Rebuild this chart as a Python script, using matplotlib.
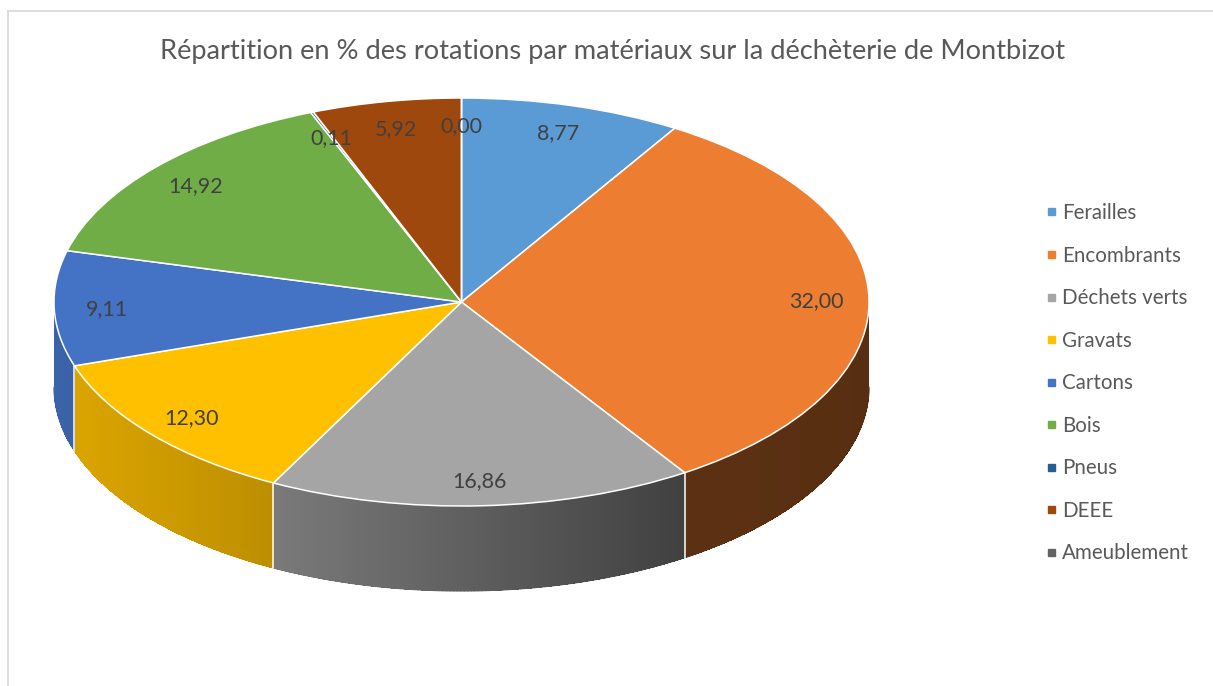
import numpy as np
import matplotlib
matplotlib.use("Agg")
import matplotlib.pyplot as plt
import matplotlib.colors as mcolors
from matplotlib.patches import Rectangle
from matplotlib.lines import Line2D
from matplotlib.collections import LineCollection

plt.rcParams['font.family'] = ['Lato', 'DejaVu Sans']

# données (% des rotations)
materiaux = ["Ferailles", "Encombrants", "Déchets verts", "Gravats", "Cartons",
             "Bois", "Pneus", "DEEE", "Ameublement"]
valeurs = [8.77, 32.00, 16.86, 12.30, 9.11, 14.92, 0.11, 5.92, 0.00]
couleurs = ["#5B9BD5", "#ED7D31", "#A5A5A5", "#FFC000", "#4472C4",
            "#70AD47", "#255E91", "#9E480E", "#636363"]
titre = "Répartition en % des rotations par matériaux sur la déchèterie de Montbizot"

W, H = 1213, 686
cx, cy = 461.5, 302.0      # centre du camembert (px)
rx, ry = 407.5, 204.0      # demi-axes de l'ellipse (px)
ep = 85.0 / ry             # epaisseur du bord 3D

fig = plt.figure(figsize=(W / 100, H / 100), dpi=100)
ax = fig.add_axes([0, 0, 1, 1])

wedges, _ = ax.pie(valeurs, colors=couleurs, startangle=90, counterclock=False,
                   radius=1, wedgeprops=dict(edgecolor="white", linewidth=1.1, zorder=3))

# bord avant avec un degrade (lumiere venant de la gauche)
fx = [-1.0, -0.46, 0.55, 1.0]
fv = [0.87, 0.74, 0.39, 0.37]
for w, c in zip(wedges, couleurs):
    lo = max(w.theta1, -180.0)
    hi = min(w.theta2, 0.0)
    if hi <= lo:
        continue
    n = max(2, int(np.ceil((hi - lo) * 2)))
    ts = np.radians(np.linspace(lo, hi, n + 1))
    base = np.array(mcolors.to_rgb(c))
    segs, cols = [], []
    for t0, t1 in zip(ts[:-1], ts[1:]):
        xs = [np.cos(t0), np.cos(t1), np.cos(t1), np.cos(t0)]
        ys = [np.sin(t0), np.sin(t1), np.sin(t1) - ep, np.sin(t0) - ep]
        col = np.clip(base * np.interp(np.cos((t0 + t1) / 2), fx, fv), 0, 1)
        ax.fill(xs, ys, color=col, lw=0, antialiased=False, zorder=1)
        segs.append([(np.cos(t0), np.sin(t0) - ep), (np.cos(t1), np.sin(t1) - ep)])
        cols.append(col)
    # bas du bord, lisse
    ax.add_collection(LineCollection(segs, colors=cols, linewidths=0.8, zorder=1.5,
                                     capstyle="round"))

# separations blanches sur le bord
limites = sorted({round(w.theta1, 6) for w in wedges} | {round(w.theta2, 6) for w in wedges})
for t in limites:
    if -180 < t < 0:
        a = np.radians(t)
        ax.plot([np.cos(a), np.cos(a)], [np.sin(a), np.sin(a) - ep],
                color="white", lw=1.1, zorder=2)

# etiquettes de valeurs
for w, v in zip(wedges, valeurs):
    m = np.radians((w.theta1 + w.theta2) / 2)
    ax.text(0.87 * np.cos(m), 0.87 * np.sin(m) - 7.5 / ry, f"{v:.2f}".replace(".", ","),
            ha="center", va="baseline", fontsize=15.5, color="#404040", zorder=5)

ax.set_xlim(-cx / rx, (W - cx) / rx)
ax.set_ylim((cy - H) / ry, cy / ry)
ax.set_aspect("auto")
ax.axis("off")

# titre
fig.text(612.5 / W, 1 - 59.5 / H, titre, ha="center", va="baseline",
         fontsize=19.6, color="#595959")

# legende
for i, (nom, c) in enumerate(zip(materiaux, couleurs)):
    yc = 212 + 42.5 * i
    fig.add_artist(Rectangle((1048 / W, 1 - (yc + 3.5) / H), 7 / W, 7 / H,
                             transform=fig.transFigure, color=c))
    fig.text(1062 / W, 1 - (yc + 7.3) / H, nom, ha="left", va="baseline",
             fontsize=14.8, color="#595959")

# cadre du graphique
fig.add_artist(Line2D([7.5 / W, 7.5 / W], [0, 1 - 10.5 / H], transform=fig.transFigure,
                      color="#d9d9d9", lw=1.3))
fig.add_artist(Line2D([7.5 / W, 1], [1 - 10.5 / H, 1 - 10.5 / H], transform=fig.transFigure,
                      color="#d9d9d9", lw=1.3))

fig.savefig("out.png", dpi=100)
